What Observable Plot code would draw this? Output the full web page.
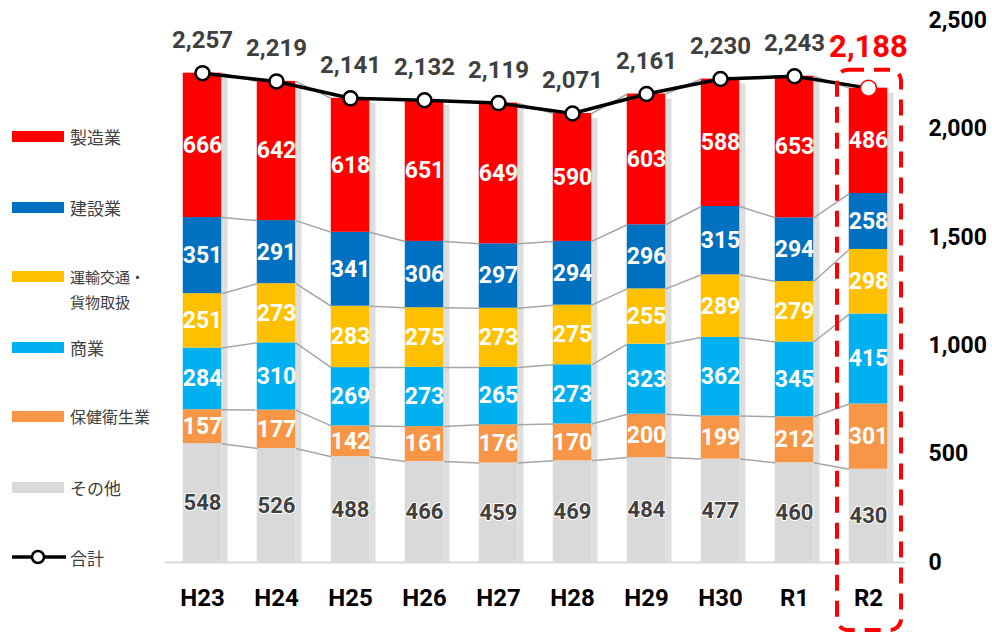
<!DOCTYPE html>
<html>
<head>
<meta charset="utf-8">
<script src="https://cdn.jsdelivr.net/npm/d3@7"></script>
<script src="https://cdn.jsdelivr.net/npm/@observablehq/plot@0.6"></script>
<style>
  html, body { margin: 0; padding: 0; background: #fff; }
  #wrap { position: relative; width: 992px; height: 634px; overflow: hidden; }
  #chart { position: absolute; left: 0; top: 0; }
  .legend { position: absolute; left: 0; top: 0; font-family: "Noto Sans CJK JP", sans-serif; font-size: 17px; color: #404040; }
  .item { position: absolute; left: 12px; display: flex; align-items: center; }
  .sw { width: 52px; height: 11px; margin-right: 6px; flex: none; }
  .lbl { line-height: 25px; white-space: nowrap; }
  g[aria-label="seg-white"] text { filter: drop-shadow(1px 1px 1px rgba(0,0,0,0.55)); }
  g[aria-label="seg-dark"] text { filter: drop-shadow(1px 1px 1px rgba(0,0,0,0.25)); }
</style>
</head>
<body>
<div id="wrap">
  <div id="chart"></div>
  <div class="legend" id="legend"></div>
</div>
<script>
// ---- data ----
const years = ["H23","H24","H25","H26","H27","H28","H29","H30","R1","R2"];
const sonota   = [548,526,488,466,459,469,484,477,460,430];
const hoken    = [157,177,142,161,176,170,200,199,212,301];
const shogyo   = [284,310,269,273,265,273,323,362,345,415];
const unyu     = [251,273,283,275,273,275,255,289,279,298];
const kensetsu = [351,291,341,306,297,294,296,315,294,258];
const seizo    = [666,642,618,651,649,590,603,588,653,486];
const totals   = [2257,2219,2141,2132,2119,2071,2161,2230,2243,2188];
const seriesNames = ["その他","保健衛生業","商業","運輸交通・貨物取扱","建設業","製造業"];
const seriesValues = [sonota, hoken, shogyo, unyu, kensetsu, seizo];
const colors = ["#D9D9D9","#F79646","#00B0F0","#FFC000","#0070C0","#FF0000"];
const yTicks = [0,500,1000,1500,2000,2500];
const legendNames = ["製造業","建設業","運輸交通・\n貨物取扱","商業","保健衛生業","その他","合計"];

// ---- derived tables ----
const hw = 0.26;
const fmt = d3.format(",");
const segs = [];
const cum = seriesValues.map(() => []);
years.forEach((yr, i) => {
  let c = 0;
  seriesValues.forEach((vals, s) => {
    segs.push({i, s, y1: c, y2: c + vals[i], v: vals[i], color: colors[s]});
    c += vals[i];
    cum[s][i] = c;
  });
});
const links = [];
cum.forEach((arr, s) => {
  for (let i = 0; i < years.length - 1; i++) {
    links.push({x1: i + hw, x2: i + 1 - hw, y1: arr[i], y2: arr[i + 1]});
  }
});
const tot = totals.map((v, i) => ({i, v}));
const last = tot.length - 1;

const font = "Roboto, 'Open Sans', sans-serif";

const plot = Plot.plot({
  width: 992, height: 634,
  marginLeft: 165, marginRight: 87, marginTop: 20, marginBottom: 72,
  x: {domain: [-0.5, 9.5], axis: null},
  y: {domain: [0, 2500], axis: null},
  style: {fontFamily: font, background: "white", overflow: "visible"},
  marks: [
    // shadows
    Plot.rect(tot, {x1: d => d.i + hw, x2: d => d.i + hw + 0.085, y1: 0, y2: "v", insetTop: 5, fill: "#000", fillOpacity: 0.13}),
    Plot.ruleY([0], {stroke: "#d9d9d9", strokeWidth: 2}),
    // bars
    Plot.rect(segs, {x1: d => d.i - hw, x2: d => d.i + hw, y1: "y1", y2: "y2", fill: d => d.color}),
    // connecting lines
    Plot.link(links, {x1: "x1", x2: "x2", y1: "y1", y2: "y2", stroke: "#a6a6a6", strokeWidth: 1.5}),
    // segment labels
    Plot.text(segs.filter(d => d.s > 0), {x: "i", y: d => (d.y1 + d.y2) / 2, text: d => fmt(d.v), fill: "white", fontSize: 23, fontWeight: 700, ariaLabel: "seg-white"}),
    Plot.text(segs.filter(d => d.s === 0), {x: "i", y: d => (d.y1 + d.y2) / 2, text: d => fmt(d.v), fill: "#404040", stroke: "white", strokeWidth: 2, fontSize: 22, fontWeight: 700, ariaLabel: "seg-dark"}),
    // total line
    Plot.line(tot, {x: "i", y: "v", stroke: "black", strokeWidth: 3.5}),
    Plot.dot(tot.slice(0, last), {x: "i", y: "v", r: 7, fill: "white", stroke: "black", strokeWidth: 2.5}),
    Plot.dot(tot.slice(last), {x: "i", y: "v", r: 8, fill: "white", stroke: "#ff0000", strokeWidth: 1.5}),
    Plot.text(tot.slice(0, last), {x: "i", y: "v", dy: -33, text: d => fmt(d.v), fill: "#404040", fontSize: 24, fontWeight: 700}),
    Plot.text(tot.slice(last), {x: "i", y: "v", dy: -41, text: d => fmt(d.v), fill: "#ff0000", fontSize: 31, fontWeight: 700}),
    // axes
    Plot.axisY({anchor: "right", ticks: yTicks, tickSize: 0, tickPadding: 23, tickFormat: fmt, fontSize: 23, fontWeight: 700, fill: "black", textAnchor: "start"}),
    Plot.axisX({ticks: d3.range(years.length), tickSize: 0, tickPadding: 26, tickFormat: i => years[i], fontSize: 24, fontWeight: 700, fill: "black"})
  ]
});
document.getElementById("chart").appendChild(plot);

// highlight box around the last year
const xs = plot.scale("x"), ys = plot.scale("y");
const cx = xs.apply(last);
const bx1 = cx - 31, bx2 = cx + 33, by1 = ys.apply(totals[last]) - 18, by2 = 630;
d3.select(plot).append("rect")
  .attr("x", bx1).attr("y", by1).attr("width", bx2 - bx1).attr("height", by2 - by1)
  .attr("rx", 11).attr("ry", 11)
  .attr("fill", "none").attr("stroke", "#ff0000").attr("stroke-width", 4)
  .attr("stroke-dasharray", "16 10");

// legend
const legendY = [136, 207, 289, 347, 416, 487, 557];
const legSizes = [17, 17, 15, 17, 16, 17, 17];
const legColors = [colors[5], colors[4], colors[3], colors[2], colors[1], colors[0], null];
const leg = document.getElementById("legend");
legendNames.forEach((name, k) => {
  const item = document.createElement("div");
  item.className = "item";
  const lines = name.split("\n");
  const h = lines.length * 25;
  item.style.top = (legendY[k] - h / 2) + "px";
  let sw;
  if (legColors[k]) {
    sw = document.createElement("div");
    sw.className = "sw";
    sw.style.background = legColors[k];
    if (lines.length > 1) { sw.style.alignSelf = "flex-start"; sw.style.marginTop = "7px"; }
  } else {
    sw = document.createElementNS("http://www.w3.org/2000/svg", "svg");
    sw.setAttribute("width", 54); sw.setAttribute("height", 16);
    sw.style.marginRight = "4px";
    sw.innerHTML = '<line x1="0" y1="8" x2="54" y2="8" stroke="black" stroke-width="3.5"/><circle cx="26" cy="8" r="6" fill="white" stroke="black" stroke-width="2.5"/>';
  }
  const lbl = document.createElement("div");
  lbl.className = "lbl";
  lbl.innerHTML = lines.join("<br>");
  lbl.style.fontSize = legSizes[k] + "px";
  item.appendChild(sw); item.appendChild(lbl);
  leg.appendChild(item);
});
</script>
</body>
</html>
